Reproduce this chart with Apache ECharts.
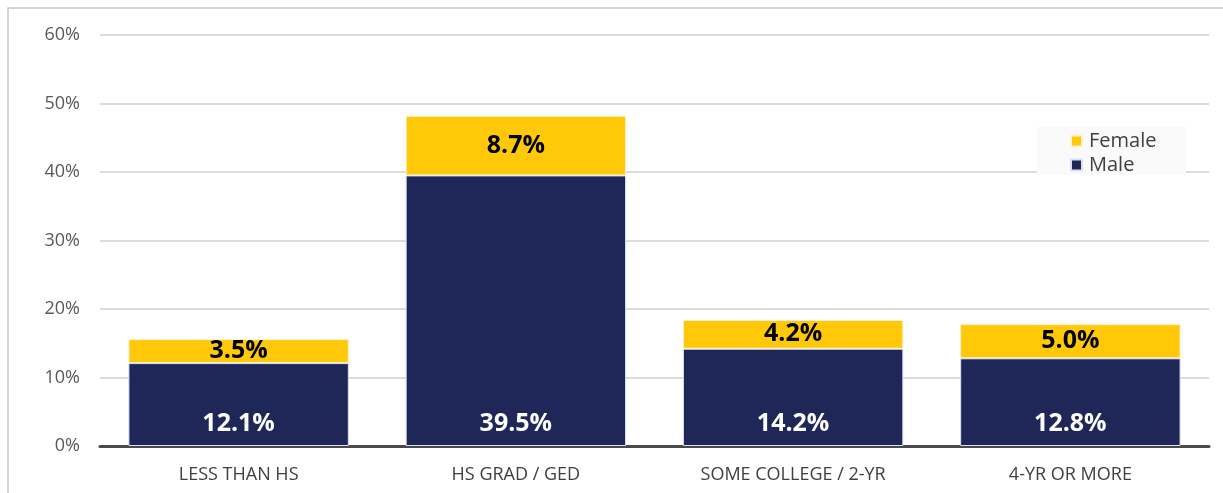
<!DOCTYPE html>
<html>
<head>
<meta charset="utf-8">
<script src="https://cdn.jsdelivr.net/npm/echarts@6/dist/echarts.min.js"></script>
<style>
html,body{margin:0;padding:0;background:#fff;}
#chart{width:1223px;height:493px;}
</style>
</head>
<body>
<div id="chart"></div>
<script>
const categories = ['LESS THAN HS', 'HS GRAD / GED', 'SOME COLLEGE / 2-YR', '4-YR OR MORE'];
const maleValues = [12.1, 39.5, 14.2, 12.8];
const femaleValues = [3.5, 8.7, 4.2, 5.0];
const yTicks = [0, 10, 20, 30, 40, 50, 60];

const FONT = '"Open Sans", "Liberation Sans", sans-serif';
const chart = echarts.init(document.getElementById('chart'));
chart.setOption({
  animation: false,
  backgroundColor: '#ffffff',
  graphic: [
    { type: 'rect', z: -10, shape: { x: 8, y: 8, width: 1400, height: 700 }, style: { fill: 'none', stroke: '#c8c8c8', lineWidth: 1.5 } },
    { type: 'rect', z: 1, shape: { x: 1037, y: 127, width: 149, height: 48 }, style: { fill: '#fafafa' } }
  ],
  grid: { left: 100, right: 14, top: 35, bottom: 47, containLabel: false },
  legend: {
    data: ['Female', 'Male'],
    orient: 'vertical',
    left: 1065,
    top: 126,
    itemGap: 4,
    itemWidth: 11,
    itemHeight: 11,
    icon: 'rect',
    z: 5,
    textStyle: { fontFamily: FONT, fontSize: 20, color: '#404040', padding: [0, 0, 0, 2] }
  },
  xAxis: {
    type: 'category',
    data: categories,
    axisTick: { show: false },
    axisLine: { lineStyle: { color: '#4a4a4a', width: 3 } },
    axisLabel: { fontFamily: FONT, fontSize: 18, color: '#404040', margin: 20 }
  },
  yAxis: {
    type: 'value',
    min: yTicks[0],
    max: yTicks[yTicks.length - 1],
    interval: 10,
    axisLine: { show: false },
    axisTick: { show: false },
    splitLine: { lineStyle: { color: '#d0d0d0', width: 1.5 } },
    axisLabel: { fontFamily: FONT, fontSize: 18, color: '#595959', margin: 20, formatter: v => v + '%' }
  },
  series: [
    {
      name: 'Male',
      type: 'bar',
      stack: 'total',
      data: maleValues,
      barWidth: '79.5%',
      itemStyle: { color: '#1f2759', borderColor: '#d9e1f2', borderWidth: 1 },
      label: {
        show: true, position: 'insideBottom', distance: 10,
        fontFamily: FONT, fontWeight: 'bold', fontSize: 25, color: '#ffffff',
        formatter: p => p.value.toFixed(1) + '%'
      }
    },
    {
      name: 'Female',
      type: 'bar',
      stack: 'total',
      data: femaleValues,
      itemStyle: { color: '#ffc90a', borderColor: '#fff2cc', borderWidth: 1 },
      label: {
        show: true, position: 'inside',
        fontFamily: FONT, fontWeight: 'bold', fontSize: 25, color: '#000000',
        formatter: p => p.value.toFixed(1) + '%'
      }
    }
  ]
});
</script>
</body>
</html>
